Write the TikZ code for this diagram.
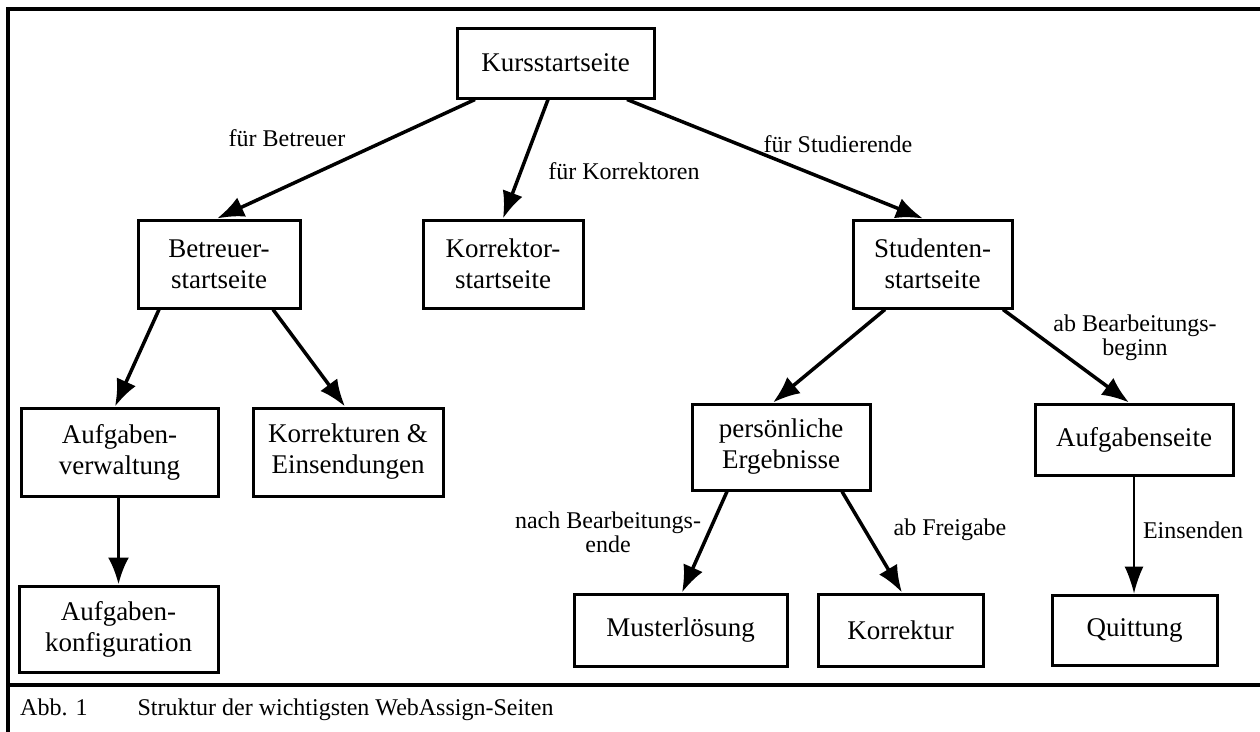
\documentclass[tikz,border=0pt]{standalone}
\usepackage{fontspec}
\setmainfont{Liberation Serif}
\usetikzlibrary{arrows.meta}
\begin{document}
\begin{tikzpicture}[x=1pt,y=-1pt,
  box/.style={draw, line width=3pt, inner sep=0pt, align=center, font=\fontsize{27}{31}\selectfont},
  lbl/.style={font=\fontsize{24}{24}\selectfont, align=center, inner sep=0pt},
  arr/.style={line width=3.5pt, -{Latex[length=27pt,width=21pt]}},
  thinarr/.style={line width=1.6pt, -{Latex[length=27pt,width=19pt]}},
  frame/.style={line width=4pt}]
\useasboundingbox (0,0) rectangle (1260,731);
% frame
\coordinate (ftl) at (8,9);
\coordinate (ftr) at (1262,9);
\coordinate (fbl) at (8,733);
\coordinate (fml) at (8,685);
\coordinate (fmr) at (1262,685);
\draw[frame] (fbl) -- (ftl) -- (ftr);
\draw[frame] (fml) -- (fmr);
% nodes
\node[box, minimum width=197pt, minimum height=70pt] (kurs) at (555.5,63) {Kursstartseite};
\node[box, minimum width=162pt, minimum height=88pt] (betr) at (219,264) {Betreuer-\\startseite};
\node[box, minimum width=160pt, minimum height=88pt] (korr) at (503,264) {Korrektor-\\startseite};
\node[box, minimum width=159pt, minimum height=88pt] (stud) at (932.5,264) {Studenten-\\startseite};
\node[box, minimum width=197pt, minimum height=88pt] (verw) at (119.5,452) {Aufgaben-\\verwaltung};
\node[box, minimum width=190pt, minimum height=88pt] (einse) at (348,452) {Korrekturen \&\\Einsendungen};
\node[box, minimum width=199pt, minimum height=86pt] (konf) at (118.5,629) {Aufgaben-\\konfiguration};
\node[box, minimum width=178pt, minimum height=86pt] (pers) at (781,447) {persönliche\\Ergebnisse};
\node[box, minimum width=198pt, minimum height=71pt] (aufs) at (1134,439.5) {Aufgabenseite};
\node[box, minimum width=213pt, minimum height=72pt] (must) at (680.5,630) {Musterlösung};
\node[box, minimum width=165pt, minimum height=72pt] (kortur) at (900.5,630) {Korrektur};
\node[box, minimum width=165pt, minimum height=70pt] (quitt) at (1134.5,630) {Quittung};
% connectors
\draw[arr] ([xshift=-80.5pt]kurs.south) -- ([xshift=-2pt]betr.north);
\draw[arr] ([xshift=-7.5pt]kurs.south) -- (korr.north);
\draw[arr] ([xshift=71.5pt]kurs.south) -- ([xshift=-9.5pt]stud.north);
\draw[arr] ([xshift=-60pt]betr.south) -- ([xshift=-4.5pt]verw.north);
\draw[arr] ([xshift=54pt]betr.south) -- ([xshift=-3pt]einse.north);
\draw[arr] (konf.north |- verw.south) -- (konf.north);
\draw[arr] ([xshift=-47.5pt]stud.south) -- ([xshift=-8pt]pers.north);
\draw[arr] ([xshift=70.5pt]stud.south) -- ([xshift=-5pt]aufs.north);
\draw[arr] ([xshift=-54pt]pers.south) -- ([xshift=1.5pt]must.north);
\draw[arr] ([xshift=61pt]pers.south) -- ([xshift=1.5pt]kortur.north);
\draw[thinarr] (aufs.south) -- (aufs.south |- quitt.north);
% labels
\node[lbl] (l1) at (287,138) {für Betreuer};
\node[lbl] (l2) at (624,171) {für Korrektoren};
\node[lbl] (l3) at (838,144) {für Studierende};
\node[lbl] (l4) at (1135,338) {ab Bearbeitungs-\\beginn};
\node[lbl] (l5) at (608,532) {nach Bearbeitungs-\\ende};
\node[lbl] (l6) at (950,530) {ab Freigabe};
\node[lbl] (l7) at (1193,530) {Einsenden};
% caption
\node[lbl, anchor=base west] (cap) at (20,715) {Abb. 1\hspace{50pt}Struktur der wichtigsten WebAssign-Seiten};
\end{tikzpicture}
\end{document}
